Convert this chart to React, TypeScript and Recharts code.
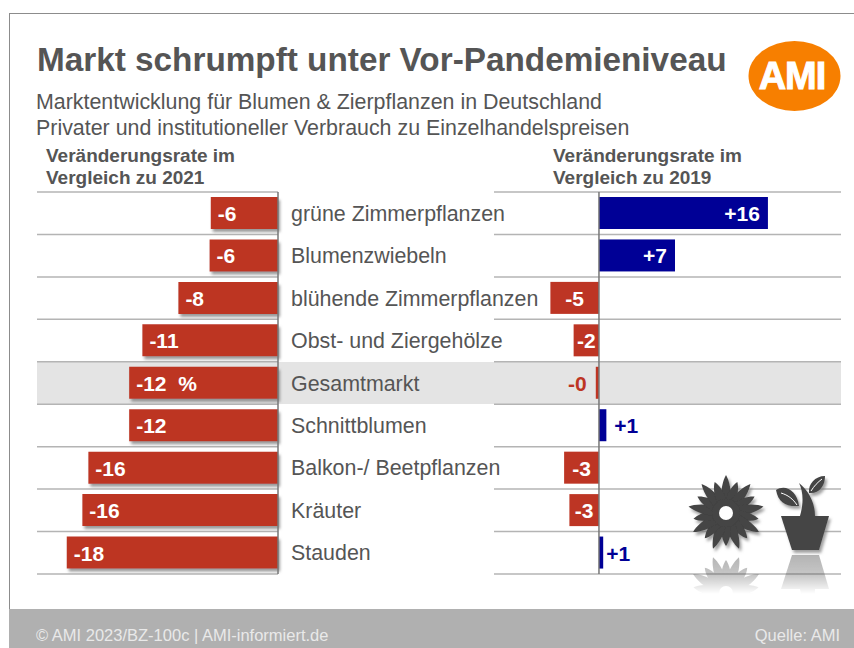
import { BarChart, Bar, XAxis, YAxis, CartesianGrid, LabelList, ReferenceLine } from "recharts";

const categories = [
  "grüne Zimmerpflanzen",
  "Blumenzwiebeln",
  "blühende Zimmerpflanzen",
  "Obst- und Ziergehölze",
  "Gesamtmarkt",
  "Schnittblumen",
  "Balkon-/ Beetpflanzen",
  "Kräuter",
  "Stauden",
];
// bar lengths, labels as printed
const vs2021 = [-5.6, -5.7, -8.3, -11.3, -12.4, -12.4, -15.8, -16.3, -17.6];
const vs2019 = [16, 7.2, -4.6, -2.4, -0.3, 0.7, -3.3, -2.8, 0.4];
const labels2021 = ["-6", "-6", "-8", "-11", "-12  %", "-12", "-16", "-16", "-18"];
const labels2019 = ["+16", "+7", "-5", "-2", "-0", "+1", "-3", "-3", "+1"];
const petals = [0, 1, 2, 3, 4, 5, 6, 7, 8, 9, 10, 11, 12, 13, 14, 15, 16, 17];

const leftData = categories.map((name, i) => ({ name, value: vs2021[i], label: labels2021[i] }));
const rightData = categories.map((name, i) => ({ name, value: vs2019[i], label: labels2019[i] }));

const RED = "#bd3524";
const BLUE = "#000096";
const TEXT = "#555555";
const FONT = "'Liberation Sans', Arial, sans-serif";
const chartMargin = { top: 4, right: 0, bottom: 4, left: 0 };

// row separators sit between the bands, not on the category ticks
const rowLines = ({ offset }: any) =>
  Array.from({ length: categories.length + 1 }, (_, i) => offset.top + (i * offset.height) / categories.length);

const Shadow = ({ id }: { id: string }) => (
  <defs>
    <filter id={id} x="-20%" y="-20%" width="140%" height="150%">
      <feDropShadow dx="2" dy="3" stdDeviation="1.4" floodColor="#777777" floodOpacity="0.75" />
    </filter>
  </defs>
);

const LeftLabel = (props: any) => {
  const { x, y, width, height, index } = props;
  return (
    <text x={x + width + 7} y={y + height / 2 + 8} fill="#ffffff" fontSize={21} fontWeight="bold" fontFamily={FONT} xmlSpace="preserve">
      {labels2021[index]}
    </text>
  );
};

const RightLabel = (props: any) => {
  const { x, y, width, height, index } = props;
  const v = vs2019[index];
  const left = Math.min(x, x + width);
  const right = Math.max(x, x + width);
  const common = { y: y + height / 2 + 8, fontSize: 21, fontWeight: "bold", fontFamily: FONT };
  const text = labels2019[index];
  if (v >= 5) return <text {...common} x={right - 8} fill="#ffffff" textAnchor="end">{text}</text>;
  if (v > 0) return <text {...common} x={right + (v < 0.5 ? 3 : 8)} fill={BLUE}>{text}</text>;
  if (v > -1) return <text {...common} x={left - 9} fill={RED} textAnchor="end">{text}</text>;
  return <text {...common} x={(left + right) / 2} fill="#ffffff" textAnchor="middle">{text}</text>;
};

const Flower = () => (
  <g fill="#444444">
    {petals.map((p) => (
      <path
        key={p}
        d={p % 2 ? "M-4.5 -9 C-6 -20 -3 -29 0 -33 C3 -29 6 -20 4.5 -9 Z" : "M-4.5 -9 C-6 -22 -3 -33 0 -38 C3 -33 6 -22 4.5 -9 Z"}
        transform={`rotate(${(p * 360) / petals.length})`}
      />
    ))}
    <circle r={14} />
    <circle r={7} fill="#ffffff" />
  </g>
);

const Pot = () => (
  <g fill="#444444">
    <path d="M781 516 L829 516 L819 550 L792 550 Z" />
    <path d="M800 516 C804 502 803 491 799 483 C808 490 815 502 815 516 Z" />
    <path d="M776 490 C785 484 797 490 799 506 C786 507 778 502 776 490 Z" />
    <path d="M825 476 C815 476 808 484 809 493 C819 494 825 486 825 476 Z" />
    <path d="M781 493 C788 495 793 499 797 505" stroke="#ffffff" strokeWidth={1} fill="none" />
    <path d="M822 479 C818 482 814 486 811 491" stroke="#ffffff" strokeWidth={1} fill="none" />
  </g>
);

export default function App() {
  return (
    <div style={{ position: "absolute", left: 0, top: 0, width: 854, height: 648, background: "#ffffff", overflow: "hidden", fontFamily: FONT, color: TEXT }}>
      <div style={{ position: "absolute", left: 9, top: 13, width: 845, height: 1, background: "#8c8c8c" }} />
      <div style={{ position: "absolute", left: 9, top: 13, width: 1, height: 596, background: "#8c8c8c" }} />
      <div style={{ position: "absolute", left: 9, top: 609, width: 845, height: 39, background: "#b0b0b0" }} />
      <div style={{ position: "absolute", left: 36, top: 626, color: "#e9e9e9", fontSize: 16.5 }}>© AMI 2023/BZ-100c | AMI-informiert.de</div>
      <div style={{ position: "absolute", right: 14, top: 626, color: "#e9e9e9", fontSize: 16.5 }}>Quelle: AMI</div>

      <div style={{ position: "absolute", left: 37, top: 42, fontSize: 33.3, fontWeight: "bold", whiteSpace: "nowrap", lineHeight: "36px" }}>
        Markt schrumpft unter Vor-Pandemieniveau
      </div>
      <div style={{ position: "absolute", left: 36, top: 90, fontSize: 21.4, whiteSpace: "nowrap", lineHeight: "25.5px" }}>
        Marktentwicklung für Blumen &amp; Zierpflanzen in Deutschland
        <br />
        Privater und institutioneller Verbrauch zu Einzelhandelspreisen
      </div>
      <div style={{ position: "absolute", left: 46, top: 145, fontSize: 19, fontWeight: "bold", whiteSpace: "nowrap", lineHeight: "22px" }}>
        Veränderungsrate im
        <br />
        Vergleich zu 2021
      </div>
      <div style={{ position: "absolute", left: 553, top: 145, fontSize: 19, fontWeight: "bold", whiteSpace: "nowrap", lineHeight: "22px" }}>
        Veränderungsrate im
        <br />
        Vergleich zu 2019
      </div>

      <div style={{ position: "absolute", left: 37, top: 362, width: 804, height: 42, background: "#e4e4e4" }} />

      <div style={{ position: "absolute", left: 494, top: 188 }}>
        <BarChart width={347} height={390} data={rightData} layout="vertical" margin={chartMargin}>
          <Shadow id="shadowRight" />
          <XAxis type="number" hide domain={[-9.94, 22.92]} />
          <YAxis type="category" dataKey="name" hide />
          <CartesianGrid vertical={false} horizontalCoordinatesGenerator={rowLines} stroke="#b4b4b4" strokeWidth={1.5} />
          <Bar dataKey="value" barSize={32} isAnimationActive={false} filter="url(#shadowRight)" shape={(p: any) => {
            const w = Math.abs(p.width);
            const x = Math.min(p.x, p.x + p.width);
            return <rect x={x} y={p.y} width={w} height={p.height} fill={p.value < 0 ? RED : BLUE} />;
          }}>
            <LabelList dataKey="label" content={RightLabel} />
          </Bar>
          <ReferenceLine x={0} stroke="#777777" strokeWidth={1.5} />
        </BarChart>
      </div>

      <div style={{ position: "absolute", left: 37, top: 188 }}>
        <BarChart width={523} height={390} data={leftData} layout="vertical" margin={chartMargin}>
          <Shadow id="shadowLeft" />
          <XAxis type="number" hide domain={[-20.08, 0]} />
          <YAxis
            type="category"
            dataKey="name"
            orientation="right"
            width={282}
            interval={0}
            tickLine={false}
            tickSize={0}
            tickMargin={13}
            axisLine={{ stroke: "#777777", strokeWidth: 1.5 }}
            tick={{ fill: TEXT, fontSize: 21.4, fontFamily: FONT }}
          />
          <CartesianGrid vertical={false} horizontalCoordinatesGenerator={rowLines} stroke="#b4b4b4" strokeWidth={1.5} />
          <Bar dataKey="value" fill={RED} barSize={32} isAnimationActive={false} filter="url(#shadowLeft)">
            <LabelList dataKey="label" content={LeftLabel} />
          </Bar>
        </BarChart>
      </div>

      <svg width={854} height={648} style={{ position: "absolute", left: 0, top: 0, pointerEvents: "none" }}>
        <defs>
          <filter id="iconShadow" x="-20%" y="-20%" width="140%" height="140%">
            <feDropShadow dx="2" dy="3" stdDeviation="1.5" floodColor="#777777" floodOpacity="0.7" />
          </filter>
          <linearGradient id="fade" x1="0" y1="0" x2="0" y2="1">
            <stop offset="0" stopColor="#ffffff" stopOpacity="0.42" />
            <stop offset="0.55" stopColor="#ffffff" stopOpacity="0.3" />
            <stop offset="1" stopColor="#ffffff" stopOpacity="0" />
          </linearGradient>
          <mask id="reflection" maskUnits="userSpaceOnUse" x={680} y={552} width={160} height={42}>
            <rect x={680} y={552} width={160} height={42} fill="url(#fade)" />
          </mask>
        </defs>
        <ellipse cx={794.5} cy={76} rx={46} ry={35} fill="#f77f00" />
        <text x={792} y={89} textAnchor="middle" fill="#ffffff" stroke="#ffffff" strokeWidth={1} fontSize={38} fontWeight="bold" fontFamily={FONT} letterSpacing={-1}>AMI</text>

        <g mask="url(#reflection)">
          <g transform="translate(726 593) scale(1 -1)">
            <Flower />
          </g>
          <g transform="translate(0 1105) scale(1 -1)">
            <Pot />
          </g>
        </g>
        <g transform="translate(726 513)" filter="url(#iconShadow)">
          <Flower />
        </g>
        <g filter="url(#iconShadow)">
          <Pot />
        </g>
      </svg>
    </div>
  );
}
